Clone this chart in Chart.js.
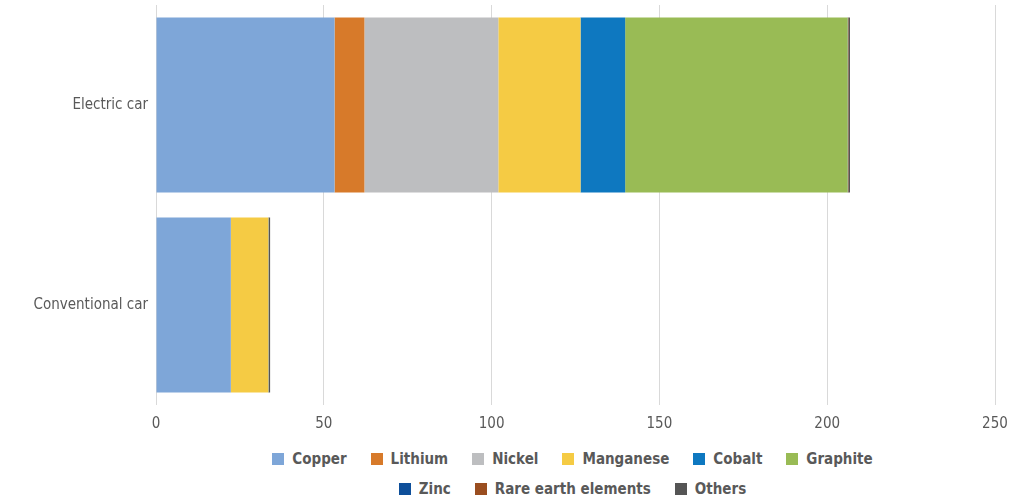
<!DOCTYPE html>
<html>
<head>
<meta charset="utf-8">
<script src="https://cdn.jsdelivr.net/npm/chart.js@4"></script>
<style>
    html, body { margin: 0; padding: 0; background: #fff; }
    #wrap { width: 1033px; height: 440px; position: relative; }
    #legend {
        box-sizing: border-box;
        width: 1033px;
        padding-left: 112px;
        margin-top: 4px;
        font-family: 'Liberation Sans Narrow', 'DejaVu Sans Condensed', sans-serif;
        font-size: 15px;
        font-weight: bold;
        color: #595959;
    }
    .row { display: flex; justify-content: center; height: 30px; align-items: center; }
    .item { display: flex; align-items: center; margin: 0 12px; }
    .box { width: 12px; height: 12px; margin-right: 8px; }
</style>
</head>
<body>
<div id="wrap"><canvas id="mineralChart"></canvas></div>
<div id="legend"></div>
<script>
// kg of minerals per vehicle
const vehicles = ['Electric car', 'Conventional car'];
const minerals = ['Copper', 'Lithium', 'Nickel', 'Manganese', 'Cobalt', 'Graphite', 'Zinc', 'Rare earth elements', 'Others'];
const electricCar = [53.2, 8.9, 39.9, 24.5, 13.3, 66.3, 0.1, 0.1, 0.5];
const conventionalCar = [22.3, 0, 0, 11.2, 0, 0, 0.1, 0, 0.4];
const xTicks = [0, 50, 100, 150, 200, 250];

const colorPalette = [
    '#7EA6D8', // Copper
    '#D77A2A', // Lithium
    '#BDBEC0', // Nickel
    '#F5CB44', // Manganese
    '#0E78C0', // Cobalt
    '#99BB55', // Graphite
    '#0E4F9A', // Zinc
    '#9A4E20', // Rare earth
    '#555555'  // Others
];

const fontFamily = "'Liberation Sans Narrow', 'DejaVu Sans Condensed', sans-serif";

const datasets = minerals.map((name, i) => ({
    label: name,
    data: [electricCar[i], conventionalCar[i]],
    backgroundColor: colorPalette[i],
    borderWidth: 0,
    barPercentage: 0.875,
    categoryPercentage: 1
}));

const ctx = document.getElementById('mineralChart').getContext('2d');
const chart = new Chart(ctx, {
    type: 'bar',
    data: { labels: vehicles, datasets: datasets },
    options: {
        indexAxis: 'y',
        responsive: true,
        maintainAspectRatio: false,
        animation: false,
        layout: { padding: { top: 5, right: 38, left: 0, bottom: 0 } },
        plugins: {
            legend: { display: false },
            tooltip: { enabled: false }
        },
        scales: {
            x: {
                stacked: true,
                min: 0,
                max: 250,
                afterBuildTicks: axis => { axis.ticks = xTicks.map(v => ({ value: v })); },
                afterFit: axis => { axis.height = 35; },
                border: { display: false },
                grid: { color: '#D9D9D9', lineWidth: 1, drawTicks: false },
                ticks: {
                    padding: 10,
                    color: '#595959',
                    font: { family: fontFamily, size: 15 }
                }
            },
            y: {
                stacked: true,
                afterFit: axis => {
                    axis.width = 156;
                    axis.paddingTop = 0;
                    axis.paddingBottom = 0;
                },
                border: { display: false },
                grid: { display: false, drawTicks: false },
                ticks: {
                    padding: 8,
                    color: '#595959',
                    font: { family: fontFamily, size: 15 }
                }
            }
        }
    }
});

// legend in two rows under the chart
const legendEl = document.getElementById('legend');
[[0, 6], [6, 9]].forEach(([from, to]) => {
    const row = document.createElement('div');
    row.className = 'row';
    chart.data.datasets.slice(from, to).forEach(ds => {
        const item = document.createElement('div');
        item.className = 'item';
        const box = document.createElement('span');
        box.className = 'box';
        box.style.background = ds.backgroundColor;
        const text = document.createElement('span');
        text.textContent = ds.label;
        item.appendChild(box);
        item.appendChild(text);
        row.appendChild(item);
    });
    legendEl.appendChild(row);
});
</script>
</body>
</html>
